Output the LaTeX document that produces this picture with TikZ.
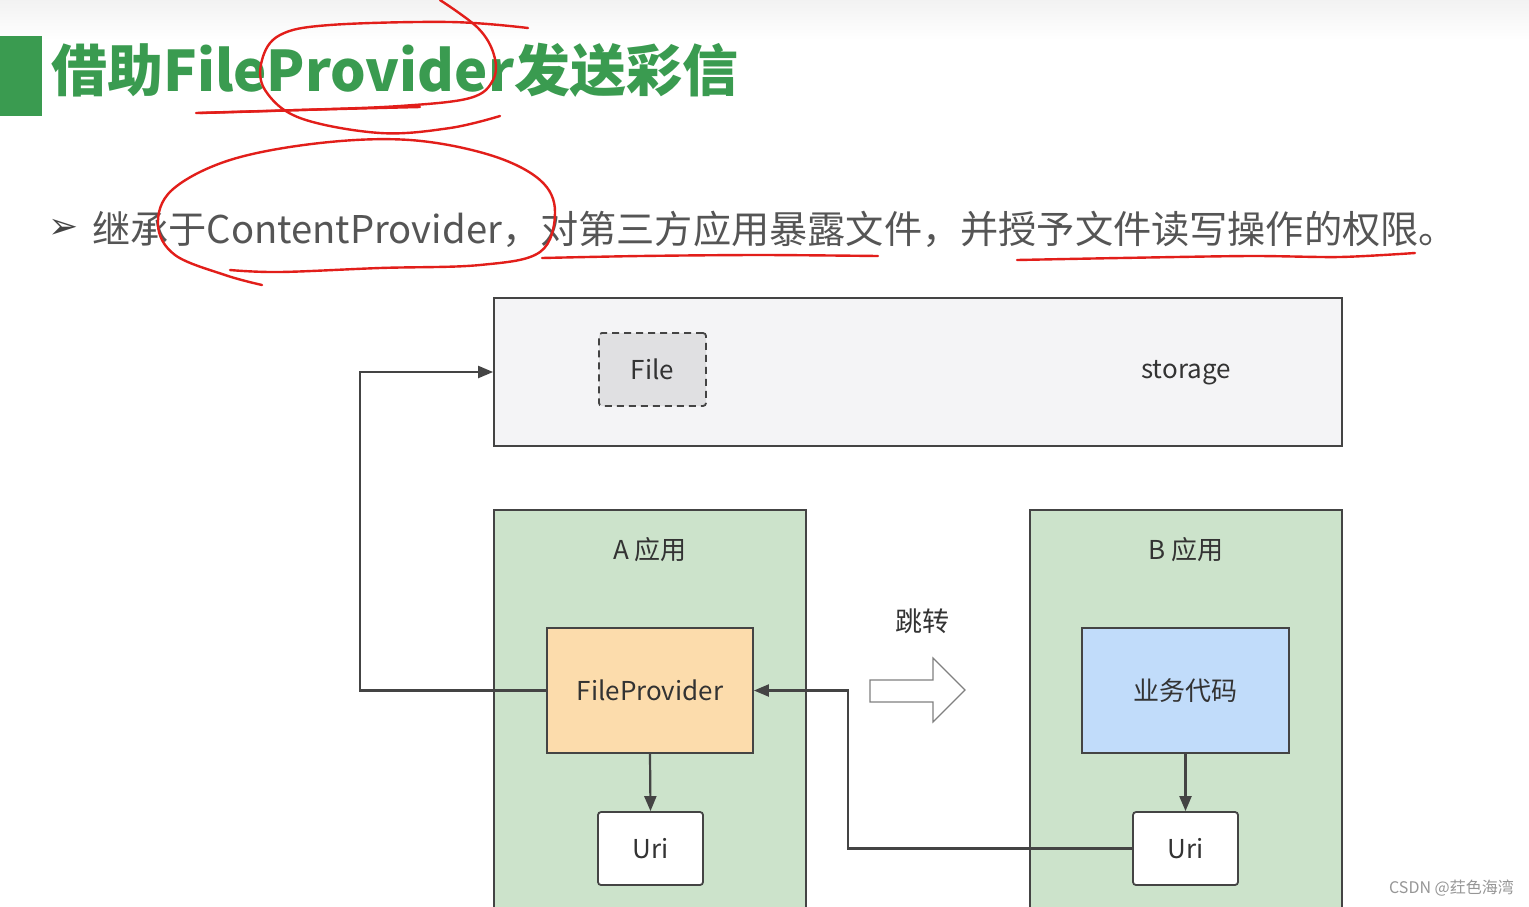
\documentclass[tikz,border=0pt]{standalone}
\usepackage{fontspec}
\newfontfamily\cjk{Noto Sans CJK SC}
\newfontfamily\dejavu{DejaVu Sans}
\usetikzlibrary{arrows.meta}
\definecolor{titlegreen}{RGB}{58,155,80}
\definecolor{bartxt}{RGB}{85,85,85}
\definecolor{ink}{RGB}{51,51,51}
\definecolor{edge}{RGB}{68,68,68}
\definecolor{storagefill}{RGB}{244,244,246}
\definecolor{filefill}{RGB}{224,224,226}
\definecolor{appfill}{RGB}{204,227,203}
\definecolor{fpfill}{RGB}{252,220,172}
\definecolor{bizfill}{RGB}{193,220,250}
\definecolor{penred}{RGB}{226,30,26}
\definecolor{wm}{RGB}{150,150,150}
\begin{document}
\begin{tikzpicture}[x=1pt,y=-1pt,
  box/.style={draw=edge,line width=1.8pt,inner sep=0pt,font=\cjk\fontsize{26}{30}\selectfont,text=ink},
  conn/.style={draw=edge,line width=2.2pt},
  arr/.style={conn,-{Triangle[length=15pt,width=12pt]}},
  pen/.style={draw=penred,line width=2.4pt,line cap=round,line join=round},
  lbl/.style={font=\cjk\fontsize{26}{30}\selectfont,text=ink,inner sep=0pt}]
\clip (0,0) rectangle (1529,906);
\fill[white] (0,0) rectangle (1529,906);
\shade[top color=black!5,bottom color=white] (0,0) rectangle (1529,40);

% title
\fill[titlegreen] (0,36) rectangle (42,116);
\node[anchor=west,inner sep=0pt,text=titlegreen,font=\cjk\bfseries\fontsize{56}{60}\selectfont] (title) at (51,70) {借助FileProvider发送彩信};

% bullet line
\node[inner sep=0pt,text=bartxt!80!black,font=\dejavu\fontsize{36}{38}\selectfont] (bul) at (64,229) {➢};
\node[anchor=west,inner sep=0pt,text=bartxt,font=\cjk\fontsize{38.2}{40}\selectfont] (desc) at (92,229) {继承于ContentProvider，对第三方应用暴露文件，并授予文件读写操作的权限。};

% storage
\node[box,fill=storagefill,minimum width=848pt,minimum height=148pt] (storage) at (918,372) {};
\node[lbl] (stlbl) at (1186,373) {storage};
\node[box,dashed,dash pattern=on 7pt off 5pt,rounded corners=3pt,fill=filefill,minimum width=107pt,minimum height=73pt] (file) at (652.5,369.5) {File};

% app A
\node[box,fill=appfill,minimum width=312pt,minimum height=440pt,anchor=north] (appA) at (650,509) {};
\node[lbl] (alabel) at (650,550) {A 应用};
\node[box,fill=fpfill,minimum width=206pt,minimum height=125pt] (fp) at (650,690.5) {FileProvider};
\node[box,fill=white,rounded corners=3pt,minimum width=105pt,minimum height=73pt] (uriA) at (650.5,848.5) {Uri};

% app B
\node[box,fill=appfill,minimum width=312pt,minimum height=440pt,anchor=north] (appB) at (1186,509) {};
\node[lbl] (blabel) at (1186,550) {B 应用};
\node[box,fill=bizfill,minimum width=207pt,minimum height=125pt] (biz) at (1185.5,690.5) {业务代码};
\node[box,fill=white,rounded corners=3pt,minimum width=105pt,minimum height=73pt] (uriB) at (1185.5,848.5) {Uri};

% jump
\node[lbl,font=\cjk\fontsize{27}{30}\selectfont] (jump) at (922,621) {跳转};
\draw[draw=black!50,fill=white,line width=1.2pt,line join=miter]
  (870,680) -- (933,680) -- (933,658) -- (965,690) -- (933,722) -- (933,702) -- (870,702) -- cycle;

% connectors
\draw[arr] (fp.west) -| (360,372) -- (storage.west);
\draw[arr] (uriB.west) -| (848,690.5) -- (fp.east);
\draw[arr] (fp.south) -- (uriA.north);
\draw[arr] (biz.south) -- (uriB.north);

% red hand annotations
\draw[pen] plot[smooth,tension=0.6] coordinates {(440,0) (478,28) (494,55) (493,80) (470,98) (400,106) (300,110) (200,113)};
\draw[pen] plot[smooth,tension=0.6] coordinates {(528,28) (450,22) (330,25) (280,35) (262,60) (265,90) (300,118) (380,133) (450,128) (500,116)};
\draw[pen] plot[smooth,tension=0.6] coordinates {(196,113) (300,110) (420,107)};
\draw[pen] plot[smooth,tension=0.6] coordinates {(262,285) (225,275) (175,255) (158,225) (172,190) (230,160) (320,143) (410,140) (490,155) (540,180) (555,212) (540,252) (480,265) (380,268) (280,272) (230,270)};
\draw[pen] plot[smooth,tension=0.5] coordinates {(542,258) (640,256) (760,255) (878,256)};
\draw[pen] plot[smooth,tension=0.5] coordinates {(1017,260) (1120,258) (1250,256) (1340,257) (1415,253)};

% watermark
\node[anchor=east,inner sep=0pt,text=wm,font=\cjk\fontsize{16}{18}\selectfont] (wmark) at (1514,888) {CSDN @荭色海湾};
\end{tikzpicture}
\end{document}
